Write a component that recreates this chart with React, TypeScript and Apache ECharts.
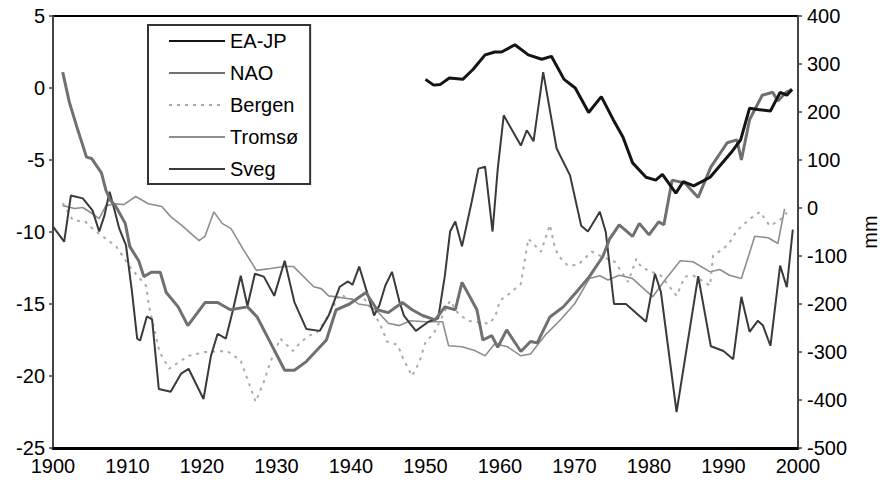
import React, { useEffect, useRef } from "react";
import * as echarts from "echarts";

const FONT = "'Liberation Sans', Arial, Helvetica, sans-serif";

// x axis: years
const yearMin = 1900;
const yearMax = 2000;
const yearStep = 10;

// left axis (index units) and right axis (mm)
const leftMin = -25;
const leftMax = 5;
const leftStep = 5;
const rightMin = -500;
const rightMax = 400;
const rightStep = 100;
const rightAxisName = "mm";

const legendOrder = ["EA-JP", "NAO", "Bergen", "Tromsø", "Sveg"];

// EA-JP cumulative index (left axis)
const eajp: [number, number][] = [
  [1950.0, 0.6], [1951.1, 0.2], [1952.0, 0.25], [1953.2, 0.7], [1955.0, 0.6],
  [1956.4, 1.3], [1958.0, 2.3], [1959.3, 2.5], [1960.2, 2.5], [1962.0, 3.0],
  [1963.8, 2.3], [1965.6, 2.0], [1966.9, 2.2], [1968.6, 0.6], [1970.1, 0.0],
  [1971.9, -1.7], [1973.6, -0.6], [1975.2, -2.2], [1976.5, -3.4], [1977.8, -5.2],
  [1979.6, -6.2], [1980.9, -6.4], [1981.8, -6.0], [1983.6, -7.3], [1984.6, -6.5],
  [1986.0, -6.8], [1988.2, -6.2], [1991.0, -4.5], [1992.3, -3.6], [1993.5, -1.4],
  [1994.6, -1.5], [1996.3, -1.6], [1997.6, -0.3], [1998.5, -0.5], [1999.2, -0.1],
];

// NAO cumulative index (left axis)
const nao: [number, number][] = [
  [1901.3, 1.1], [1902.2, -1.0], [1903.2, -2.7], [1904.5, -4.8], [1905.2, -4.9],
  [1906.5, -5.9], [1907.1, -7.1], [1907.7, -7.8], [1908.4, -8.2], [1909.7, -9.4],
  [1910.3, -11.0], [1911.5, -12.0], [1912.2, -13.1], [1913.2, -12.8], [1914.4, -12.8],
  [1915.2, -14.2], [1916.8, -15.2], [1918.1, -16.5], [1920.4, -14.9], [1922.1, -14.9],
  [1923.8, -15.4], [1926.1, -15.2], [1927.4, -15.9], [1929.2, -17.7], [1931.1, -19.6],
  [1932.4, -19.6], [1934.0, -19.0], [1936.7, -17.5], [1938.0, -15.4], [1939.8, -15.0],
  [1942.0, -14.2], [1943.5, -15.4], [1945.0, -15.6], [1946.9, -14.9], [1948.2, -15.4],
  [1949.6, -15.8], [1951.3, -16.1], [1952.6, -15.2], [1954.0, -15.4], [1954.9, -13.5],
  [1956.9, -15.4], [1957.7, -17.5], [1958.9, -17.2], [1959.7, -18.0], [1960.9, -16.8],
  [1962.8, -18.3], [1964.1, -17.6], [1965.0, -17.7], [1966.7, -15.9], [1968.5, -15.2],
  [1970.2, -14.2], [1972.0, -13.1], [1973.8, -11.7], [1974.7, -10.5], [1976.0, -9.5],
  [1977.8, -10.3], [1978.7, -9.4], [1980.0, -10.2], [1981.3, -9.3], [1982.0, -9.5],
  [1983.1, -6.4], [1984.8, -6.6], [1986.6, -7.6], [1988.3, -5.5], [1990.5, -3.8],
  [1991.8, -3.6], [1992.4, -5.0], [1993.5, -2.2], [1995.2, -0.5], [1996.6, -0.3],
  [1997.3, -0.9], [1998.4, -0.3], [1999.2, -0.1],
];

// Bergen cumulative precipitation, mm (right axis)
const bergen: [number, number][] = [
  [1901.3, 10], [1902.7, -26], [1904.3, -28], [1905.3, -43], [1907.6, -70],
  [1908.4, -78], [1910.3, -122], [1911.3, -141], [1912.5, -162], [1912.9, -206],
  [1914.3, -300], [1915.6, -335], [1916.8, -322], [1918.2, -308], [1920.4, -300],
  [1923.4, -298], [1925.2, -318], [1927.2, -404], [1928.3, -362], [1929.2, -320],
  [1930.5, -272], [1932.2, -298], [1933.2, -280], [1934.4, -266], [1935.4, -260],
  [1937.0, -224], [1938.5, -180], [1940.0, -190], [1941.5, -183], [1943.0, -215],
  [1944.3, -256], [1944.8, -278], [1946.2, -285], [1946.6, -298], [1947.0, -314],
  [1948.2, -350], [1949.2, -320], [1950.0, -279], [1951.1, -262], [1953.3, -193],
  [1954.4, -220], [1955.7, -235], [1957.1, -238], [1958.6, -241], [1959.4, -224],
  [1960.0, -193], [1961.3, -178], [1962.8, -158], [1963.3, -112], [1963.8, -64],
  [1965.5, -91], [1966.7, -35], [1967.3, -78], [1967.8, -99], [1969.1, -120],
  [1970.5, -118], [1972.3, -91], [1973.5, -100], [1975.4, -112], [1977.2, -154],
  [1978.3, -106], [1979.0, -124], [1981.6, -141], [1983.7, -183], [1984.8, -143],
  [1986.0, -141], [1988.2, -162], [1988.6, -99], [1990.0, -85], [1990.9, -70],
  [1991.8, -47], [1993.6, -22], [1994.9, -8], [1996.2, -37], [1997.5, -26],
  [1998.5, -10],
];

// Tromsø cumulative precipitation, mm (right axis)
const tromso: [number, number][] = [
  [1901.3, 5], [1902.9, -1], [1904.0, 1], [1905.3, -12], [1906.2, -22],
  [1907.1, 5], [1908.4, 9], [1909.5, 7], [1911.1, 24], [1912.8, 9],
  [1914.6, 3], [1915.8, -18], [1917.2, -35], [1919.6, -68], [1920.4, -59],
  [1921.6, -8], [1922.7, -32], [1923.9, -43], [1925.5, -85], [1927.3, -130],
  [1929.2, -126], [1931.0, -122], [1932.3, -122], [1935.0, -164], [1936.0, -168],
  [1937.0, -183], [1940.2, -190], [1941.0, -200], [1942.3, -203], [1943.6, -216],
  [1945.0, -240], [1946.5, -245], [1948.0, -235], [1950.0, -237], [1952.3, -237],
  [1953.1, -287], [1954.9, -289], [1956.6, -297], [1958.0, -308], [1959.3, -283],
  [1961.0, -289], [1962.8, -308], [1964.1, -304], [1966.0, -266], [1968.0, -235],
  [1970.0, -200], [1972.0, -147], [1973.4, -141], [1974.5, -150], [1976.0, -140],
  [1977.8, -147], [1980.5, -185], [1982.3, -147], [1984.2, -110], [1985.9, -112],
  [1988.2, -133], [1989.5, -128], [1990.8, -140], [1992.4, -147], [1994.2, -59],
  [1996.0, -62], [1997.3, -74], [1998.2, -2],
];

// Sveg cumulative precipitation, mm (right axis)
const sveg: [number, number][] = [
  [1900.0, -39], [1901.5, -70], [1902.4, 26], [1904.0, 20], [1905.3, -5],
  [1906.2, -49], [1906.9, -16], [1907.6, 34], [1908.2, -1], [1908.9, -43],
  [1909.8, -78], [1910.6, -174], [1911.3, -272], [1911.7, -276], [1912.6, -226],
  [1913.3, -232], [1914.2, -377], [1915.8, -383], [1917.2, -345], [1918.2, -335],
  [1920.2, -398], [1921.2, -308], [1922.1, -262], [1923.2, -272], [1924.1, -216],
  [1925.2, -141], [1926.1, -204], [1927.1, -137], [1928.3, -143], [1929.7, -183],
  [1931.1, -110], [1932.4, -196], [1934.0, -252], [1935.8, -256], [1937.0, -224],
  [1938.5, -164], [1939.6, -153], [1940.2, -160], [1941.1, -122], [1942.0, -168],
  [1943.1, -224], [1943.8, -203], [1944.6, -162], [1945.5, -133], [1946.5, -195],
  [1947.1, -224], [1948.7, -256], [1950.4, -237], [1951.7, -230], [1952.6, -141],
  [1953.3, -49], [1954.0, -28], [1954.9, -80], [1956.2, 13], [1957.1, 82],
  [1958.0, 86], [1959.0, -49], [1959.7, 82], [1960.5, 193], [1962.8, 130],
  [1963.6, 162], [1964.5, 139], [1965.8, 283], [1967.6, 124], [1969.4, 68],
  [1970.9, -37], [1971.8, -49], [1973.4, -8], [1974.2, -50], [1975.3, -200],
  [1976.9, -200], [1979.6, -237], [1980.8, -137], [1981.6, -175], [1983.7, -425],
  [1986.6, -142], [1988.3, -288], [1990.0, -298], [1991.3, -315], [1992.4, -185],
  [1993.5, -258], [1994.6, -235], [1995.3, -245], [1996.3, -287], [1997.6, -120],
  [1998.5, -165], [1999.3, -45],
];

export default function App() {
  const ref = useRef<HTMLDivElement>(null);

  useEffect(() => {
    if (!ref.current) return;
    const chart = echarts.init(ref.current, undefined, { renderer: "svg" });

    const labelStyle = { fontSize: 20, color: "#000", fontFamily: FONT };

    chart.setOption({
      animation: false,
      backgroundColor: "#fff",
      grid: {
        left: 53,
        right: 80,
        top: 16,
        bottom: 32,
        show: true,
        borderColor: "#000",
        borderWidth: 2,
        backgroundColor: "transparent",
      },
      legend: {
        orient: "vertical",
        left: 148,
        top: 25,
        padding: [6, 12, 5, 20],
        itemGap: 12,
        itemWidth: 56,
        itemHeight: 14,
        borderColor: "#333",
        borderWidth: 2,
        backgroundColor: "#fff",
        selectedMode: false,
        itemStyle: { opacity: 0 },
        textStyle: { ...labelStyle, lineHeight: 20 },
        data: legendOrder,
      },
      xAxis: {
        type: "value",
        min: yearMin,
        max: yearMax,
        interval: yearStep,
        axisLine: { show: true, onZero: false, lineStyle: { color: "#000", width: 3 } },
        axisTick: { show: false },
        splitLine: { show: false },
        axisLabel: { ...labelStyle, margin: 8, formatter: (v: number) => String(v) },
      },
      yAxis: [
        {
          type: "value",
          position: "left",
          min: leftMin,
          max: leftMax,
          interval: leftStep,
          axisLine: { show: true, onZero: false, lineStyle: { color: "#444", width: 2 } },
          axisTick: { show: true, length: 4, lineStyle: { color: "#444", width: 1.5 } },
          splitLine: { show: false },
          axisLabel: { ...labelStyle, margin: 8 },
        },
        {
          type: "value",
          position: "right",
          min: rightMin,
          max: rightMax,
          interval: rightStep,
          name: rightAxisName,
          nameLocation: "middle",
          nameRotate: 90,
          nameGap: 62,
          nameTextStyle: { ...labelStyle },
          axisLine: { show: true, onZero: false, lineStyle: { color: "#444", width: 2 } },
          axisTick: { show: true, length: 4, lineStyle: { color: "#444", width: 1.5 } },
          splitLine: { show: false },
          axisLabel: { ...labelStyle, margin: 9 },
        },
      ],
      series: [
        {
          name: "Bergen",
          type: "line",
          yAxisIndex: 1,
          data: bergen,
          symbol: "none",
          lineStyle: { color: "#ababab", width: 2, type: [3, 5] },
          itemStyle: { color: "#ababab" },
        },
        {
          name: "Tromsø",
          type: "line",
          yAxisIndex: 1,
          data: tromso,
          symbol: "none",
          lineStyle: { color: "#8e8e8e", width: 1.6 },
          itemStyle: { color: "#8e8e8e" },
        },
        {
          name: "Sveg",
          type: "line",
          yAxisIndex: 1,
          data: sveg,
          symbol: "none",
          lineStyle: { color: "#3a3a3a", width: 2 },
          itemStyle: { color: "#3a3a3a" },
        },
        {
          name: "NAO",
          type: "line",
          yAxisIndex: 0,
          data: nao,
          symbol: "none",
          lineStyle: { color: "#707070", width: 3 },
          itemStyle: { color: "#707070" },
        },
        {
          name: "EA-JP",
          type: "line",
          yAxisIndex: 0,
          data: eajp,
          symbol: "none",
          lineStyle: { color: "#141414", width: 3 },
          itemStyle: { color: "#141414" },
        },
      ],
    });

    return () => chart.dispose();
  }, []);

  return (
    <div
      ref={ref}
      style={{ position: "fixed", left: 0, top: 0, width: 888, height: 480 }}
    />
  );
}
